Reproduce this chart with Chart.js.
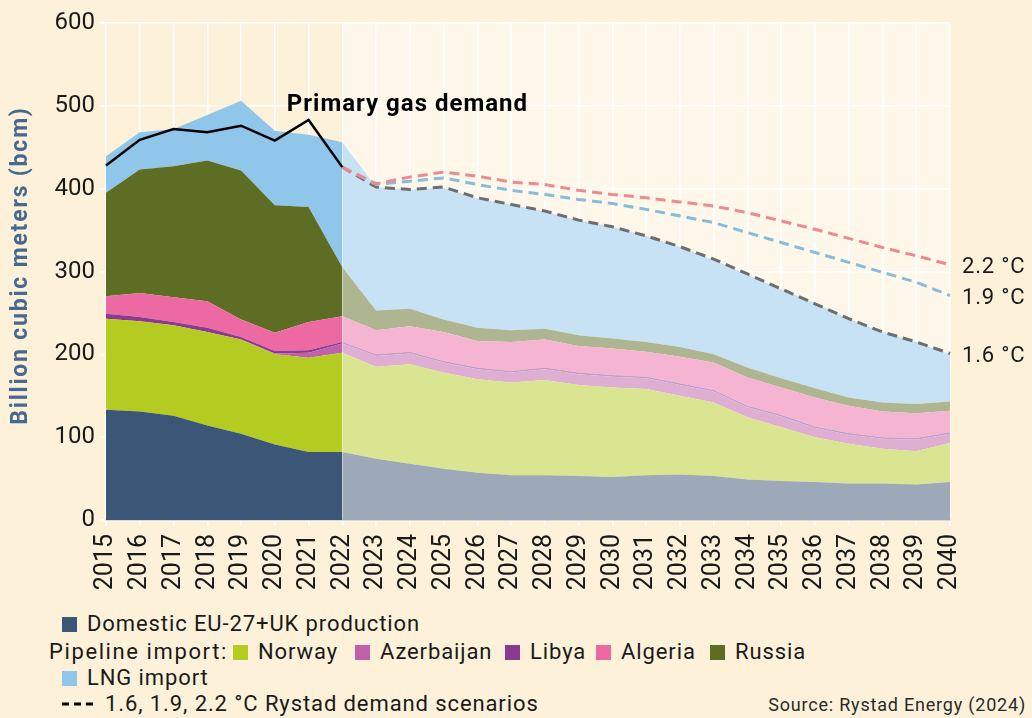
<!DOCTYPE html>
<html>
<head>
<meta charset="utf-8">
<script src="https://cdn.jsdelivr.net/npm/chart.js@4.4.1/dist/chart.umd.min.js"></script>
<style>
  body { margin: 0; background: #fdf2d9; width: 1032px; height: 718px; overflow: hidden;
         font-family: Roboto, sans-serif; color: #1a1a1a; position: relative; }
  #wrap { position: absolute; left: 0; top: 0; width: 1032px; height: 600px; }
  .item { position: absolute; height: 28px; line-height: 28px; display: flex; align-items: center;
          font-size: 22px; white-space: nowrap; letter-spacing: 0.9px; }
  .sw { display: inline-block; width: 15px; height: 15px; margin-right: 10px; }
  #source { position: absolute; right: 6px; top: 694px; font-size: 18px; color: #2a2a2a; letter-spacing: 0.8px; }
</style>
</head>
<body>
<div id="wrap"><canvas id="myChart" width="1032" height="600"></canvas></div>
<div id="legend"></div>
<div id="source">Source: Rystad Energy (2024)</div>
<script>
// years 2015-2040, history up to 2022, Rystad outlook after
var years = ['2015','2016','2017','2018','2019','2020','2021','2022','2023','2024','2025','2026','2027',
             '2028','2029','2030','2031','2032','2033','2034','2035','2036','2037','2038','2039','2040'];

var domestic   = [133,131,126,114,104,91,82,82, 74,68,62,57,54,54,53,52,54,55,53,49,47,46,44,44,43,46];
var norway     = [110,109,109,113,114,109,114,120, 111,120,116,113,112,115,110,108,104,95,89,75,65,54,48,42,40,47];
var azerbaijan = [0,0,0,0,0,1,6,11, 13,13,12,12,12,13,13,13,13,13,13,12,13,11,11,12,14,11];
var libya      = [6,5,4,5,3,3,3,2, 2,2,2,2,2,2,2,2,2,2,2,2,2,2,2,2,2,2];
var algeria    = [21,29,30,32,21,22,34,31, 29,31,35,32,35,34,32,32,30,32,33,34,33,35,33,31,30,26];
var russia     = [125,149,158,170,180,154,139,59, 24,21,15,16,14,13,13,12,12,12,10,12,11,11,10,11,11,11];
var lng        = [44,45,45,55,84,90,87,151, 149,144,159,156,152,141,139,135,128,121,114,112,108,103,95,85,75,57];

var demand = [428,459,472,468,476,458,483,426];
var scen16 = [426,402,399,402,389,381,373,362,354,343,330,315,297,279,261,243,227,215,201];
var scen19 = [426,405,409,413,405,398,393,387,382,375,367,359,347,335,323,311,299,287,271];
var scen22 = [426,406,414,420,415,408,405,398,393,389,384,379,371,361,351,340,329,319,308];

var firstForecast = 7; // index of 2022

function pad(arr) { // put scenario values on the year axis
  var out = [];
  for (var i = 0; i < years.length; i++) out.push(i < firstForecast ? null : arr[i - firstForecast]);
  return out;
}

var areas = [
  { label: 'Domestic EU-27+UK production', data: domestic,   color: '#3b5676', light: '#9da9b9' },
  { label: 'Norway',                       data: norway,     color: '#b4cc22', light: '#d9e590' },
  { label: 'Azerbaijan',                   data: azerbaijan, color: '#c060a8', light: '#dfafd3' },
  { label: 'Libya',                        data: libya,      color: '#8b3a8f', light: '#c59cc7' },
  { label: 'Algeria',                      data: algeria,    color: '#ec69a3', light: '#f5b4d1' },
  { label: 'Russia',                       data: russia,     color: '#5d6d24', light: '#aeb691' },
  { label: 'LNG import',                   data: lng,        color: '#8fc6ea', light: '#c7e2f4' }
];

var datasets = areas.map(function (a, i) {
  return {
    label: a.label,
    data: a.data,
    backgroundColor: a.color,
    borderWidth: 0,
    pointRadius: 0,
    fill: i === 0 ? 'origin' : '-1',
    stack: 'supply',
    segment: {
      backgroundColor: function (ctx) { return ctx.p0DataIndex >= firstForecast ? a.light : undefined; }
    }
  };
});

function scenarioLine(label, arr, color) {
  return { label: label, data: pad(arr), borderColor: color, borderWidth: 3, borderDash: [10, 6],
           pointRadius: 0, fill: false, stack: label, order: -1 };
}
datasets.push(scenarioLine('2.2 °C', scen22, '#ee8a8f'));
datasets.push(scenarioLine('1.9 °C', scen19, '#86bcdc'));
datasets.push(scenarioLine('1.6 °C', scen16, '#6e6e6e'));
datasets.push({ label: 'Primary gas demand', data: demand, borderColor: '#000', borderWidth: 2.5,
                pointRadius: 0, fill: false, stack: 'demand', order: -2 });

var backdrop = {
  id: 'backdrop',
  beforeDraw: function (chart) {
    var ctx = chart.ctx, a = chart.chartArea, x = chart.scales.x;
    var x0 = x.getPixelForValue(firstForecast);
    ctx.save();
    ctx.fillStyle = '#fff7ea';
    ctx.fillRect(x0, a.top, a.right - x0, a.bottom - a.top);
    ctx.restore();
  }
};

var notes = {
  id: 'notes',
  afterDraw: function (chart) {
    var ctx = chart.ctx, x = chart.scales.x, y = chart.scales.y, a = chart.chartArea;
    ctx.save();
    // axis title, drawn here so the letter spacing can be set
    ctx.translate(21, (a.top + a.bottom) / 2 - 6);
    ctx.rotate(-Math.PI / 2);
    ctx.font = 'bold 23px Roboto';
    ctx.letterSpacing = '1.8px';
    ctx.fillStyle = '#47698f';
    ctx.textAlign = 'center';
    ctx.textBaseline = 'middle';
    ctx.fillText('Billion cubic meters (bcm)', 0, 0);
    ctx.restore();

    ctx.save();
    ctx.fillStyle = '#000';
    ctx.font = 'bold 24px Roboto';
    ctx.letterSpacing = '1px';
    ctx.textBaseline = 'alphabetic';
    ctx.fillText('Primary gas demand', x.getPixelForValue(5) + 12, y.getPixelForValue(494));
    ctx.font = '22px Roboto';
    ctx.letterSpacing = '0.8px';
    ctx.fillStyle = '#1a1a1a';
    ctx.textBaseline = 'middle';
    [['2.2 °C', scen22], ['1.9 °C', scen19], ['1.6 °C', scen16]].forEach(function (s) {
      ctx.fillText(s[0], a.right + 12, y.getPixelForValue(s[1][s[1].length - 1]) + 3);
    });
    ctx.restore();
  }
};

Chart.defaults.font.family = 'Roboto';
Chart.defaults.color = '#1a1a1a';

new Chart(document.getElementById('myChart').getContext('2d'), {
  type: 'line',
  data: { labels: years, datasets: datasets },
  options: {
    responsive: false,
    animation: false,
    layout: { padding: { top: 23, right: 82, left: 0, bottom: 0 } },
    elements: { line: { tension: 0 } },
    plugins: { legend: { display: false }, tooltip: { enabled: false } },
    scales: {
      x: {
        grid: { color: '#ffffff', lineWidth: 1.5, tickLength: 6, tickColor: '#ffffff' },
        border: { color: '#d9d9d9', width: 2 },
        ticks: { minRotation: 90, maxRotation: 90, padding: 8, font: { size: 25 }, autoSkip: false },
        afterFit: function (s) { s.height = 80; }
      },
      y: {
        stacked: true,
        min: 0, max: 600,
        grid: { color: '#ffffff', lineWidth: 1.5, tickLength: 6, tickColor: '#ffffff' },
        border: { display: false },
        ticks: { stepSize: 100, padding: 5, font: { size: 24 } },
        afterFit: function (s) { s.width = 106; }
      }
    }
  },
  plugins: [backdrop, notes]
});

// legend below the chart
var legendRows = [
  { top: 610, left: 62, swatch: areas[0].color, text: areas[0].label },
  { top: 638, left: 49, text: 'Pipeline import:', spacing: '1.6px' },
  { top: 638, left: 233, swatch: areas[1].color, text: 'Norway' },
  { top: 638, left: 355, swatch: areas[2].color, text: 'Azerbaijan' },
  { top: 638, left: 505, swatch: areas[3].color, text: 'Libya' },
  { top: 638, left: 596, swatch: areas[4].color, text: 'Algeria' },
  { top: 638, left: 710, swatch: areas[5].color, text: 'Russia' },
  { top: 664, left: 62, swatch: areas[6].color, text: areas[6].label },
  { top: 690, left: 62, dash: true, text: '1.6, 1.9, 2.2 °C Rystad demand scenarios' }
];
var legend = document.getElementById('legend');
legendRows.forEach(function (r) {
  var d = document.createElement('div');
  d.className = 'item';
  d.style.top = r.top + 'px';
  d.style.left = r.left + 'px';
  if (r.spacing) d.style.letterSpacing = r.spacing;
  var html = '';
  if (r.swatch) html += '<span class="sw" style="background:' + r.swatch + '"></span>';
  if (r.dash) html += '<svg width="36" height="6" style="margin-right:7px"><line x1="0" y1="3" x2="36" y2="3" stroke="#000" stroke-width="3" stroke-dasharray="7,5"/></svg>';
  d.innerHTML = html + '<span>' + r.text + '</span>';
  legend.appendChild(d);
});
</script>
</body>
</html>
